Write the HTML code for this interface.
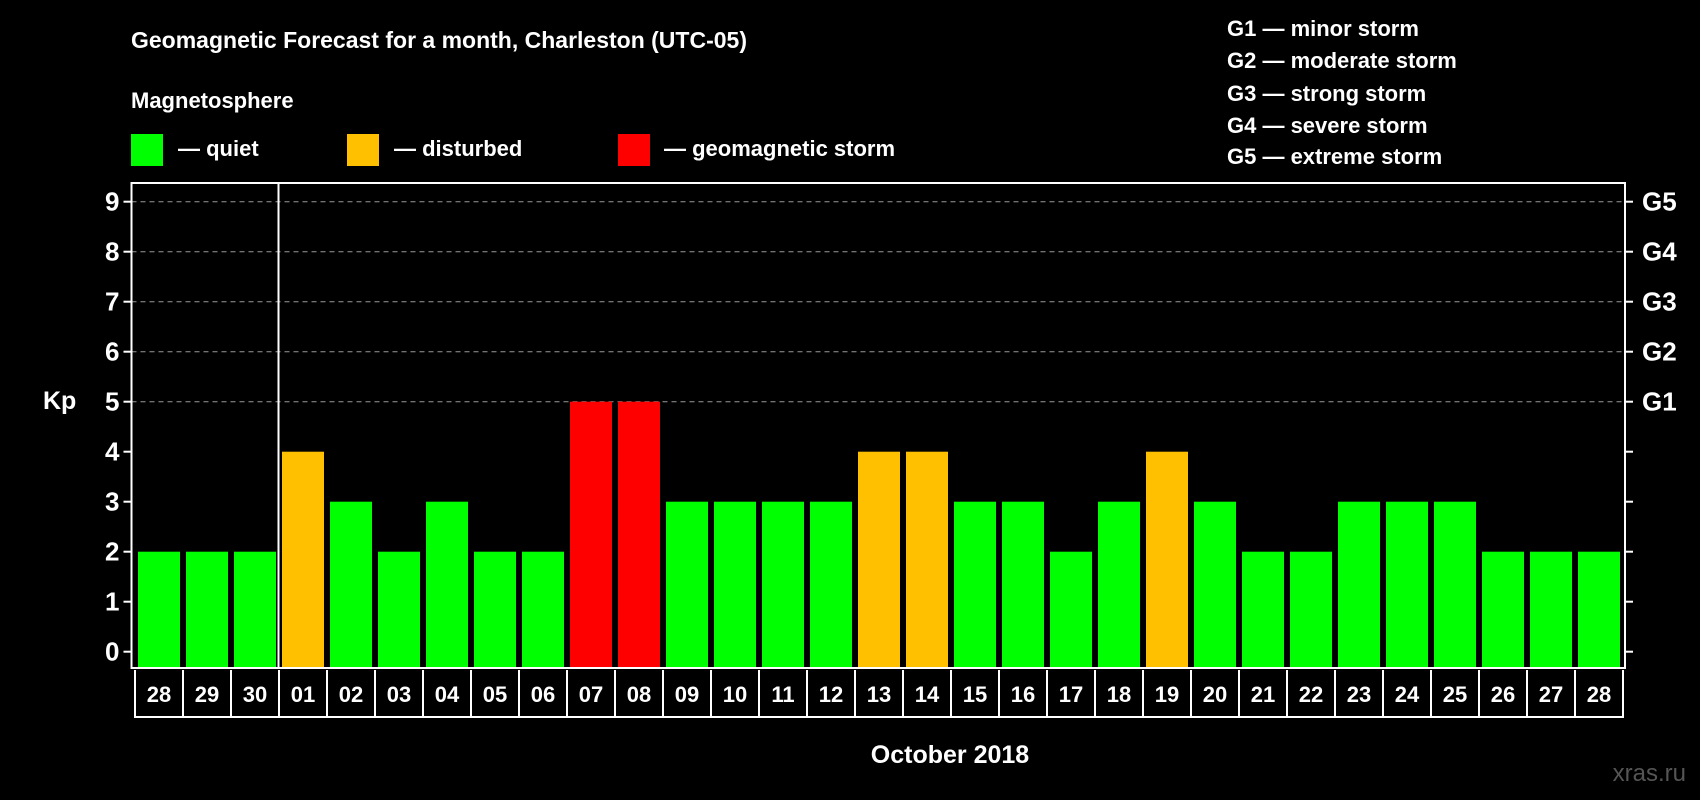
<!DOCTYPE html>
<html><head><meta charset="utf-8"><style>
html,body{margin:0;padding:0;background:#000;}
svg{display:block;font-family:"Liberation Sans",Arial,sans-serif;font-weight:bold;}
</style></head><body>
<svg id="chart" width="1700" height="800" viewBox="0 0 1700 800">
<rect width="1700" height="800" fill="#000"/>
<text x="131" y="48" fill="#fff" font-size="23">Geomagnetic Forecast for a month, Charleston (UTC-05)</text>
<text x="131" y="108" fill="#fff" font-size="22">Magnetosphere</text>
<g><rect x="131" y="134" width="32" height="32" fill="#00ff00"/><text x="178" y="156" fill="#fff" font-size="22">— quiet</text></g>
<g><rect x="347" y="134" width="32" height="32" fill="#ffc000"/><text x="394" y="156" fill="#fff" font-size="22">— disturbed</text></g>
<g><rect x="618" y="134" width="32" height="32" fill="#ff0000"/><text x="664" y="156" fill="#fff" font-size="22">— geomagnetic storm</text></g>
<g fill="#fff" font-size="22">
<text x="1227" y="36">G1 — minor storm</text>
<text x="1227" y="68">G2 — moderate storm</text>
<text x="1227" y="101">G3 — strong storm</text>
<text x="1227" y="133">G4 — severe storm</text>
<text x="1227" y="164">G5 — extreme storm</text>
</g>
<text x="43" y="409" fill="#fff" font-size="25">Kp</text>
<text x="950" y="763" fill="#fff" font-size="25" text-anchor="middle">October 2018</text>
<text x="1686" y="781" fill="#555" font-size="24" text-anchor="end" font-weight="normal">xras.ru</text>
<g id="grid"></g><g id="bars"></g><g id="axes"></g>
</svg>
<script>
const days = ["28","29","30","01","02","03","04","05","06","07","08","09","10","11","12","13","14","15","16","17","18","19","20","21","22","23","24","25","26","27","28"];
const kpValues = [2,2,2,4,3,2,3,2,2,5,5,3,3,3,3,4,4,3,3,2,3,4,3,2,2,3,3,3,2,2,2];
const yTicks = [0,1,2,3,4,5,6,7,8,9];
const gLabels = ["G1","G2","G3","G4","G5"];
const gLevels = [5,6,7,8,9];
const NS="http://www.w3.org/2000/svg";
const L=131.5,R=1625,T=183,B=668,cellX0=135,cellW=48;
const y=v=>651.7-v*50;
const x=i=>cellX0+i*cellW;
function mk(p,tag,a){const e=document.createElementNS(NS,tag);for(const k in a)e.setAttribute(k,a[k]);p.appendChild(e);return e;}
const grid=document.getElementById('grid'),bars=document.getElementById('bars'),axes=document.getElementById('axes');
gLevels.forEach(v=>{
 const ln=mk(grid,'line',{x1:L,x2:R,y1:y(v),y2:y(v),stroke:'#999','stroke-dasharray':'5,4','stroke-width':1});
 
 
});
kpValues.forEach((v,i)=>{
 const c=v>=5?'#ff0000':(v>=4?'#ffc000':'#00ff00');
 const r=mk(bars,'rect',{x:x(i)+3,y:y(v),width:42,height:y(0)-y(v)+16,fill:c});
 
 
});
const box=mk(axes,'rect',{x:L,y:T,width:R-L,height:B-T,fill:'none',stroke:'#fff','stroke-width':2});


const sep=mk(axes,'line',{x1:x(3)-0.5,x2:x(3)-0.5,y1:T,y2:B,stroke:'#fff','stroke-width':2});


yTicks.forEach(v=>{
 mk(axes,'line',{x1:L-8,x2:L,y1:y(v),y2:y(v),stroke:'#fff','stroke-width':2});
 mk(axes,'line',{x1:R,x2:R+8,y1:y(v),y2:y(v),stroke:'#fff','stroke-width':2});
 const t=mk(axes,'text',{x:L-12,y:y(v)+9,fill:'#fff','font-size':26,'text-anchor':'end'});
 t.textContent=v;
 
 
});
gLabels.forEach((g,i)=>{
 const t=mk(axes,'text',{x:1642,y:y(gLevels[i])+9,fill:'#fff','font-size':26});
 t.textContent=g;
 
 
});
mk(axes,'line',{x1:x(0),x2:x(days.length),y1:717,y2:717,stroke:'#fff','stroke-width':2});
days.forEach((d,i)=>{
 mk(axes,'line',{x1:x(i),x2:x(i),y1:670,y2:718,stroke:'#fff','stroke-width':2});
 const t=mk(axes,'text',{x:x(i)+cellW/2,y:702,fill:'#fff','font-size':22,'text-anchor':'middle'});
 t.textContent=d;
 
 
});
mk(axes,'line',{x1:x(days.length),x2:x(days.length),y1:670,y2:718,stroke:'#fff','stroke-width':2});
</script>
</body></html>
